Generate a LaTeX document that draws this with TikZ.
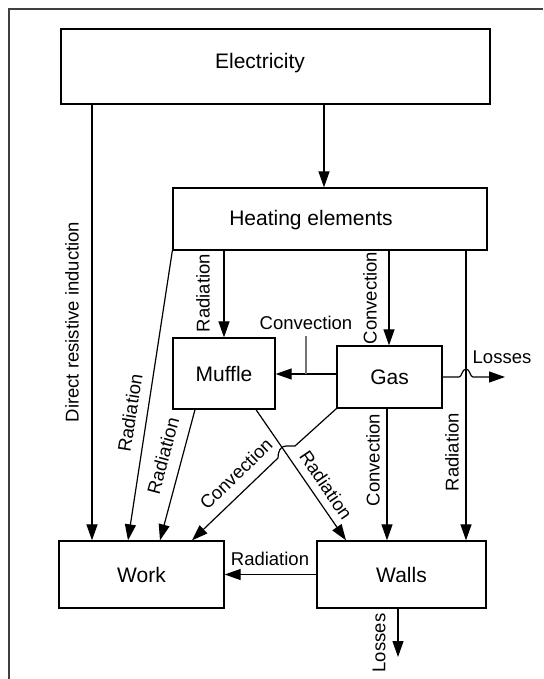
\documentclass[tikz,border=0pt]{standalone}
\usepackage{fontspec}
\setmainfont{Liberation Sans}
\usetikzlibrary{arrows.meta,calc}
\begin{document}
\begin{tikzpicture}[x=1pt,y=-1pt,
  box/.style={draw,line width=1.3pt,inner sep=0pt,font=\fontsize{21}{25}\selectfont},
  boxtext/.style={inner sep=0pt,font=\fontsize{21}{25}\selectfont},
  lab/.style={inner sep=0pt,font=\fontsize{18.5}{22}\selectfont},
  flow/.style={line width=1.2pt,-{Triangle[length=16pt,width=11pt]}},
  ln/.style={line width=1.2pt}]
\useasboundingbox (0,0) rectangle (543,679);
\draw[line width=1.5pt,black!75] (9,679) -- (9,9) -- (543,9);

% boxes
\node[box,minimum width=429pt,minimum height=75pt] (elec) at (275.5,66.5) {};
\node[boxtext] (electxt) at (260,63) {Electricity};
\node[box,minimum width=314pt,minimum height=62pt] (heat) at (330,219) {};
\node[boxtext] (heattxt) at (311,220) {Heating elements};
\node[box,minimum width=102pt,minimum height=71pt] (muffle) at (224,373.5) {Muffle};
\node[box,minimum width=105pt,minimum height=62pt] (gas) at (389.5,377) {Gas};
\node[box,minimum width=165pt,minimum height=67pt] (work) at (141.5,574.5) {Work};
\node[box,minimum width=169pt,minimum height=67pt] (walls) at (401.5,574.5) {Walls};

% electricity
\draw[flow] (324,0 |- elec.south) -- (324,0 |- heat.north);
\draw[flow] (92,0 |- elec.south) -- (92,0 |- work.north);
\node[lab,rotate=90] (ldir) at (72,322) {Direct resistive induction};

% heating elements
\draw[flow] (224,0 |- heat.south) -- (muffle.north);
\node[lab,rotate=90] (lhm) at (203,293) {Radiation};
\draw[flow] (389,0 |- heat.south) -- (389,0 |- gas.north);
\node[lab,rotate=90] (lhg) at (370,298) {Convection};
\draw[flow] (466,0 |- heat.south) -- (466,0 |- walls.north);
\node[lab,rotate=90] (lhw) at (452,452) {Radiation};
\draw[flow] (heat.south west) -- (128,0 |- work.north);
\node[lab,rotate=81] (lhk) at (130,413) {Radiation};

% gas to muffle
\draw[flow] ($(gas.west)+(0,-3)$) coordinate (gm) -- (muffle.east |- gm);
\draw[line width=1.2pt,black!55] (306,0 |- gm) -- (306,336);
\node[lab] (lgm) at (306,323) {Convection};

% gas losses
\coordinate (loss1) at (505,377);
\draw[flow] (gas.east) -- (459,377) .. controls (462,377) and (462,369) .. (466,369)
  .. controls (470,369) and (470,377) .. (473,377) -- (loss1);
\node[lab] (lloss1) at (502,357) {Losses};

% muffle outputs
\draw[flow] (195,0 |- muffle.south) -- (160,0 |- work.north);
\node[lab,rotate=75] (lmk) at (163,456) {Radiation};
\draw[flow] (256,0 |- muffle.south) -- (346,0 |- walls.north);
\node[lab,rotate=-55.7] (lmw) at (326,485) {Radiation};

% gas outputs
\draw[flow] (gas.south west) -- (295,446) -- (286,446)
  .. controls (280,446) and (278,452) .. (278,458) -- (192,0 |- work.north);
\node[lab,rotate=44] (lgk) at (236,474) {Convection};
\draw[flow] (387,0 |- gas.south) -- (387,0 |- walls.north);
\node[lab,rotate=90] (lgw) at (373,460) {Convection};

% walls
\draw[flow] (walls.west) -- (work.east |- walls.west);
\node[lab] (lwk) at (270,559) {Radiation};
\coordinate (loss2) at (398,657);
\draw[flow] (398,0 |- walls.south) -- (loss2);
\node[lab,rotate=90] (lloss2) at (379,643) {Losses};
\end{tikzpicture}
\end{document}
